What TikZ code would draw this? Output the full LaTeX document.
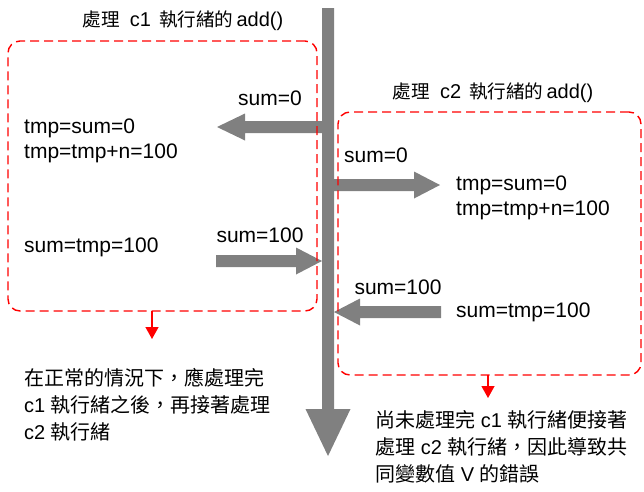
\documentclass[tikz,border=0pt]{standalone}
\usepackage{fontspec}
\setmainfont{Liberation Sans}
\newfontfamily\cjkb[Scale=1.0]{Noto Sans CJK TC}
\newfontfamily\cjkh[Scale=0.93]{Noto Sans CJK TC}
\usetikzlibrary{arrows.meta}
\definecolor{agray}{HTML}{808080}
\definecolor{dred}{HTML}{FF0000}
\tikzset{
  fat/.style={fill=agray, draw=none},
  dbox/.style={draw=dred, line width=1.4pt, dash pattern=on 9pt off 5pt, rounded corners=12pt},
  redarrow/.style={draw=dred, line width=1.3pt, -{Triangle[length=12pt,width=13pt]}},
  lbl/.style={inner sep=0pt, font=\fontsize{21}{25}\selectfont},
  head/.style={inner sep=0pt, font=\fontsize{20}{24}\selectfont},
  note/.style={inner sep=0pt, anchor=west, font=\fontsize{20}{24}\selectfont},
}
\begin{document}
\begin{tikzpicture}[x=1pt,y=-1pt]
\useasboundingbox (0,0) rectangle (644,491);
% main timeline arrow
\fill[fat] (322,8) -- (334,8) -- (334,409) -- (350.5,409) -- (328,456) -- (305.5,409) -- (322,409) -- cycle;
% arrow 1: left, y=127
\fill[fat] (323,121) -- (245,121) -- (245,113.5) -- (217,127) -- (245,140.5) -- (245,133) -- (323,133) -- cycle;
% arrow 2: right, y=185
\fill[fat] (333,179) -- (414,179) -- (414,171.5) -- (440,185) -- (414,198.5) -- (414,191) -- (333,191) -- cycle;
% arrow 3: right, y=261
\fill[fat] (216,255) -- (296,255) -- (296,247.5) -- (322,261) -- (296,274.5) -- (296,267) -- (216,267) -- cycle;
% arrow 4: left, y=312
\fill[fat] (441,306) -- (360,306) -- (360,298.5) -- (334,312) -- (360,325.5) -- (360,318) -- (441,318) -- cycle;
% dashed boxes
\node[dbox, minimum width=309pt, minimum height=270pt, inner sep=0pt] (b1) at (162.5,176) {};
\node[dbox, minimum width=303pt, minimum height=263pt, inner sep=0pt] (b2) at (489.5,243.5) {};
\coordinate (a1s) at (152,311);
\coordinate (a1e) at (152,339);
\coordinate (a2s) at (488,375);
\coordinate (a2e) at (488,398);
\draw[redarrow] (a1s) -- (a1e);
\draw[redarrow] (a2s) -- (a2e);
% headings
\node[head] (h1) at (183,21) {{\cjkh 處理}\hspace{10pt}c1\hspace{8pt}{\cjkh 執行緒的}\hspace{3pt}add()};
\node[head] (h2) at (493,93) {{\cjkh 處理}\hspace{10pt}c2\hspace{8pt}{\cjkh 執行緒的}\hspace{3pt}add()};
% left box texts
\node[lbl] (s0a) at (270,98) {sum=0};
\node[lbl, anchor=west] (t1a) at (24,128) {tmp=sum=0};
\node[lbl, anchor=west] (t2a) at (24,153) {tmp=tmp+n=100};
\node[lbl, anchor=west] (s1a) at (24,247) {sum=tmp=100};
\node[lbl] (s100a) at (260,235) {sum=100};
% right box texts
\node[lbl] (s0b) at (376,155) {sum=0};
\node[lbl, anchor=west] (t1b) at (456,185) {tmp=sum=0};
\node[lbl, anchor=west] (t2b) at (456,210) {tmp=tmp+n=100};
\node[lbl] (s100b) at (398,287) {sum=100};
\node[lbl, anchor=west] (s1b) at (456,312) {sum=tmp=100};
% notes
\node[note] (n1) at (24,378) {{\cjkb 在正常的情況下，應處理完}};
\node[note] (n2) at (24,405) {c1 {\cjkb 執行緒之後，再接著處理}};
\node[note] (n3) at (24,432) {c2 {\cjkb 執行緒}};
\node[note] (m1) at (375,420) {{\cjkb 尚未處理完} c1 {\cjkb 執行緒便接著}};
\node[note] (m2) at (375,447) {{\cjkb 處理} c2 {\cjkb 執行緒，因此導致共}};
\node[note] (m3) at (375,474) {{\cjkb 同變數值} V {\cjkb 的錯誤}};
\end{tikzpicture}
\end{document}
